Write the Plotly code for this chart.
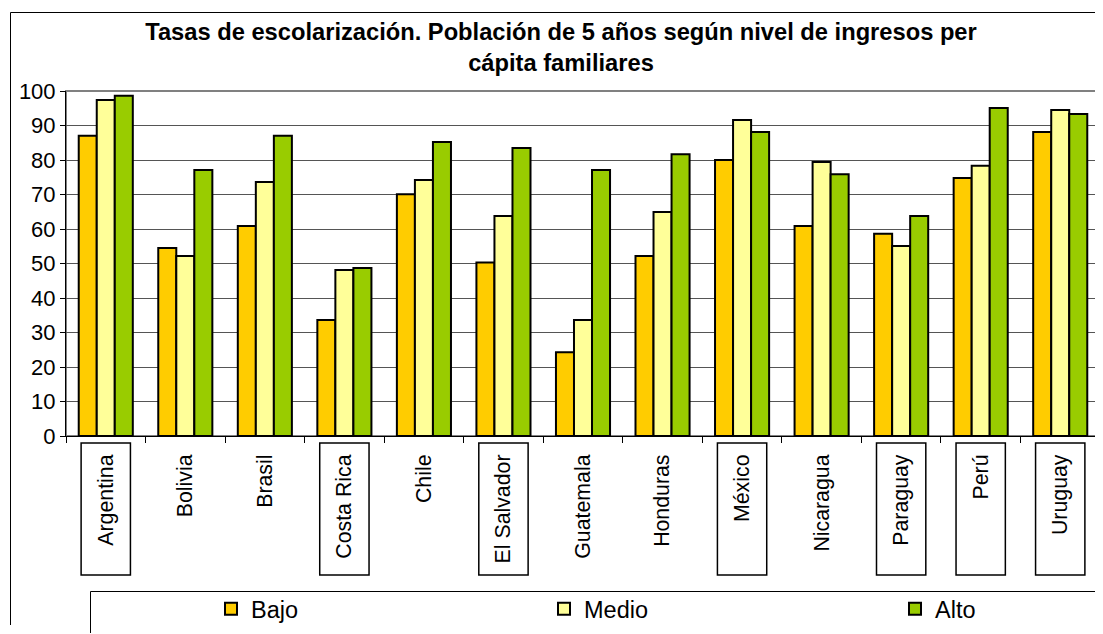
import plotly.graph_objects as go

categories = ["Argentina", "Bolivia", "Brasil", "Costa Rica", "Chile", "El Salvador",
              "Guatemala", "Honduras", "México", "Nicaragua", "Paraguay", "Perú", "Uruguay"]
bajo = [87.0, 54.5, 60.9, 33.6, 70.1, 50.3, 24.3, 52.2, 80.0, 60.9, 58.6, 74.8, 88.1]
medio = [97.4, 52.2, 73.6, 48.1, 74.2, 63.8, 33.6, 64.9, 91.6, 79.4, 55.1, 78.3, 94.5]
alto = [98.6, 77.1, 87.0, 48.7, 85.2, 83.5, 77.1, 81.7, 88.1, 75.9, 63.8, 95.1, 93.3]
boxed = ["Argentina", "Costa Rica", "El Salvador", "México", "Paraguay", "Perú", "Uruguay"]

series = [("Bajo", bajo, "#FFCC00"), ("Medio", medio, "#FFFF99"), ("Alto", alto, "#99CC00")]

# the page body adds an 8px margin; positions below are screen pixels
OFF = 8
W, H = 1103 - OFF, 634 - OFF
PL, PR, PT, PB = 66, 1100, 91, 436  # plot area in screen pixels
L = PL - OFF
R = W - (PR - OFF)
T = PT - OFF
B = H - (PB - OFF)
pw = PR - PL
ph = PB - PT

def px_x(p):
    return (p - PL) / pw

def px_y(p):
    return (PB - p) / ph

fig = go.Figure()
legend_ids = ["legend", "legend2", "legend3"]
for (name, vals, col), lid in zip(series, legend_ids):
    fig.add_trace(go.Bar(
        x=categories, y=vals, name=name, legend=lid, showlegend=True,
        marker=dict(color=col, line=dict(color="black", width=2)),
    ))

shapes = []
# outer chart frame: left edge and top edge drawn as separate short segments
for y0, y1 in [(12.5, 300), (300, 625)]:
    shapes.append(dict(type="line", xref="paper", yref="paper",
                       x0=px_x(10.5), x1=px_x(10.5), y0=px_y(y0), y1=px_y(y1),
                       line=dict(color="black", width=1)))
for x0, x1 in [(10.5, 560), (560, 1095)]:
    shapes.append(dict(type="line", xref="paper", yref="paper",
                       x0=px_x(x0), x1=px_x(x1), y0=px_y(12.5), y1=px_y(12.5),
                       line=dict(color="black", width=1)))
# plot area border (gray)
shapes.append(dict(type="rect", xref="paper", yref="paper",
                   x0=0, x1=1, y0=0, y1=1,
                   line=dict(color="#808080", width=2), fillcolor="rgba(0,0,0,0)", layer="below"))
# legend box (left, top, right edges)
shapes.append(dict(type="path", xref="paper", yref="paper",
                   path="M {x0},{y0} L {x0},{y1} L {x1},{y1} L {x1},{y0}".format(
                       x0=px_x(90.5), x1=px_x(1097.5), y0=px_y(633), y1=px_y(591.5)),
                   line=dict(color="black", width=1)))
# boxes around some category labels
for i, c in enumerate(categories):
    if c in boxed:
        shapes.append(dict(type="rect", xref="x", yref="paper",
                           x0=i - 0.31, x1=i + 0.31, y0=px_y(575), y1=px_y(443),
                           line=dict(color="black", width=1.5), fillcolor="rgba(0,0,0,0)"))

legend_common = dict(orientation="h", xanchor="left", yanchor="middle",
                     font=dict(size=23.5), bgcolor="rgba(0,0,0,0)")

fig.update_layout(
    width=W, height=H,
    margin=dict(l=L, r=R, t=T, b=B, autoexpand=False),
    paper_bgcolor="white", plot_bgcolor="white",
    barmode="group", bargap=0.32, bargroupgap=0,
    showlegend=True,
    font=dict(family="Liberation Sans, Arial, sans-serif", color="black", size=22),
    title=dict(text="<b>Tasas de escolarización. Población de 5 años según nivel de ingresos per<br>cápita familiares</b>",
               x=(561 - OFF) / W, xanchor="center", y=1 - 32 / H, yanchor="middle",
               font=dict(size=23.7, family="Liberation Sans, Arial, sans-serif", color="black")),
    xaxis=dict(
        type="category", tickson="boundaries", ticks="outside", ticklen=6, tickcolor="black",
        showline=True, linecolor="black", linewidth=1, tickangle=-90,
        tickfont=dict(size=21.3), ticklabelstandoff=9, showgrid=False, automargin=False,
    ),
    yaxis=dict(
        range=[0, 100], dtick=10, ticks="outside", ticklen=5, tickcolor="black",
        showline=True, linecolor="black", linewidth=1,
        showgrid=True, gridcolor="#555555", gridwidth=1,
        tickfont=dict(size=22), zeroline=False, automargin=False,
    ),
    legend=dict(x=px_x(211), y=px_y(609), **legend_common),
    legend2=dict(x=px_x(544), y=px_y(609), **legend_common),
    legend3=dict(x=px_x(895), y=px_y(609), **legend_common),
    shapes=shapes,
)

fig.write_html("out.html")
